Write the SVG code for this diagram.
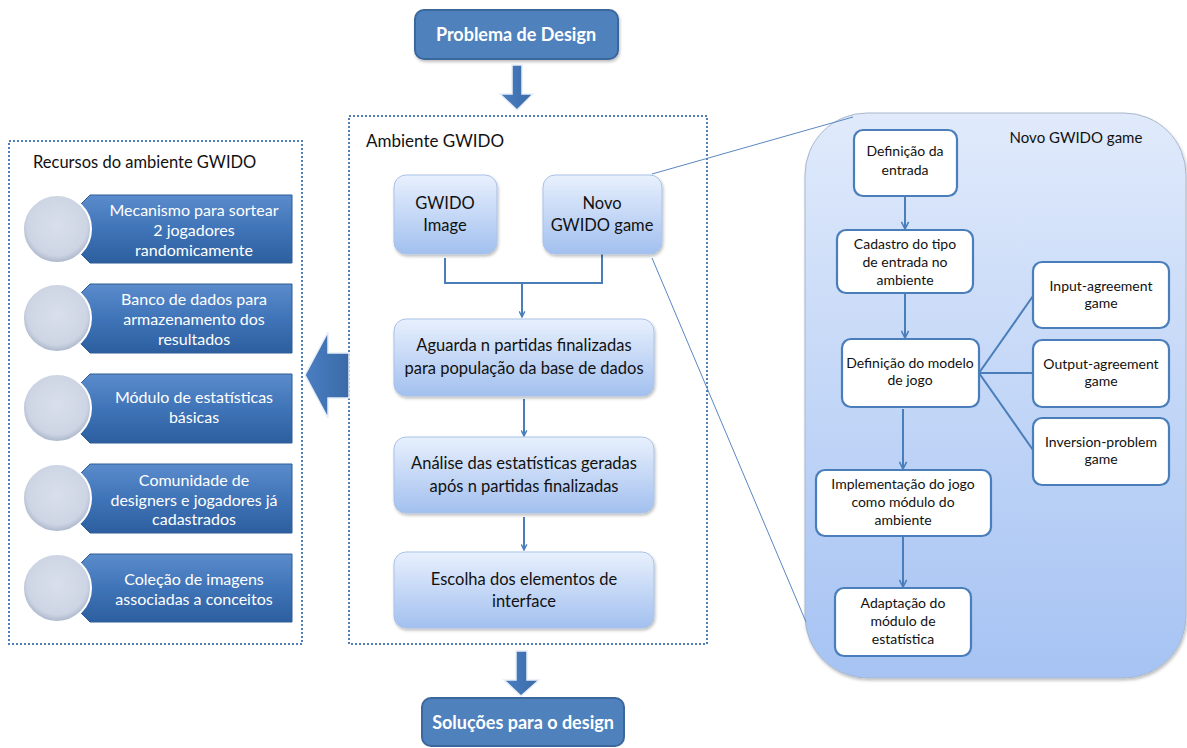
<svg xmlns="http://www.w3.org/2000/svg" width="1187" height="748" viewBox="0 0 1187 748">
  <defs>
    <linearGradient id="gNode" x1="0" y1="0" x2="0" y2="1">
      <stop offset="0" stop-color="#e8f0fd"/>
      <stop offset="1" stop-color="#a2c0ef"/>
    </linearGradient>
    <linearGradient id="gPanel" x1="0" y1="0" x2="0" y2="1">
      <stop offset="0" stop-color="#e0eafb"/>
      <stop offset="1" stop-color="#a6c3f3"/>
    </linearGradient>
    <linearGradient id="gTab" x1="0" y1="0" x2="0" y2="1">
      <stop offset="0" stop-color="#5b8ccc"/>
      <stop offset="0.5" stop-color="#3f74b8"/>
      <stop offset="1" stop-color="#2d5f9f"/>
    </linearGradient>
    <radialGradient id="gDisc" cx="0.5" cy="0.45" r="0.55">
      <stop offset="0" stop-color="#d9dfeb"/>
      <stop offset="0.8" stop-color="#cdd5e4"/>
      <stop offset="1" stop-color="#a9b4c8"/>
    </radialGradient>
    <linearGradient id="gArrow" x1="0" y1="0" x2="1" y2="0">
      <stop offset="0" stop-color="#4a7fc2"/>
      <stop offset="1" stop-color="#3a6aa8"/>
    </linearGradient>
    <filter id="shadow" x="-10%" y="-10%" width="120%" height="130%">
      <feDropShadow dx="1" dy="2" stdDeviation="1.5" flood-color="#000" flood-opacity="0.25"/>
    </filter>
    <marker id="arr" viewBox="0 0 10 10" refX="9" refY="5" markerWidth="7" markerHeight="7" orient="auto" markerUnits="userSpaceOnUse">
      <path d="M1,1 L9,5 L1,9" fill="none" stroke="#4a7ebb" stroke-width="2"/>
    </marker>
    <marker id="arr2" viewBox="0 0 10 10" refX="9" refY="5" markerWidth="9" markerHeight="9" orient="auto" markerUnits="userSpaceOnUse">
      <path d="M1,1 L9,5 L1,9" fill="none" stroke="#4a7ebb" stroke-width="1.8"/>
    </marker>
    <style>
      .t { font-family: "Lato", "Liberation Sans", sans-serif; text-anchor: middle; }
      .title { font-size: 18px; font-weight: bold; fill: #ffffff; }
      .blk { font-size: 16.5px; fill: #111; }
      .wht { font-size: 16px; fill: #ffffff; }
      .sm { font-size: 14px; fill: #111; }
      .hdr { font-family: "Lato", "Liberation Sans", sans-serif; font-size: 16.5px; fill: #111; }
      .dotted { fill: #ffffff; stroke: #4f7fb8; stroke-width: 2; stroke-dasharray: 2 2; }
      .dark { fill: #4f81bd; stroke: #3b679c; stroke-width: 2; }
      .soft { fill: url(#gNode); stroke: #a9c2e6; stroke-width: 1; }
      .wbox { fill: #ffffff; stroke: #4a7ebb; stroke-width: 2.2; }
      .link { fill: none; stroke: #4a7ebb; stroke-width: 2; }
      .zoom { fill: none; stroke: #5b87c0; stroke-width: 1; }
      .tab { fill: url(#gTab); stroke: #2f5d96; stroke-width: 1; }
      .disc { fill: url(#gDisc); stroke: #ffffff; stroke-width: 2; }
      .bigarrow { fill: url(#gArrow); stroke: #e8eef7; stroke-width: 1.5; }
    </style>
  </defs>

  <!-- outer containers -->
  <rect id="recursos-frame" class="dotted" x="9" y="141" width="293" height="503"/>
  <rect id="ambiente-frame" class="dotted" x="349" y="116" width="358" height="528"/>
  <rect id="novo-panel" x="805" y="113" width="381" height="565" rx="62" fill="url(#gPanel)" stroke="#a8b8cc" stroke-width="1" filter="url(#shadow)"/>

  <!-- zoom lines linking the node to its detail panel -->
  <g id="zoom-lines">
    <line class="zoom" x1="652" y1="174" x2="853" y2="117"/>
    <line class="zoom" x1="652" y1="258" x2="806" y2="622"/>
  </g>

  <!-- headings -->
  <text class="hdr" x="33" y="168">Recursos do ambiente GWIDO</text>
  <text class="hdr" x="366" y="147" style="font-size:17px">Ambiente GWIDO</text>
  <text class="t" x="1076" y="143" style="font-size:15px;fill:#111">Novo GWIDO game</text>

  <!-- top and bottom terminals -->
  <g id="problema">
    <rect class="dark" x="415" y="10" width="203" height="49" rx="9" filter="url(#shadow)"/>
    <text class="t title" x="516" y="41">Problema de Design</text>
  </g>
  <g id="solucoes">
    <rect class="dark" x="422" y="698" width="202" height="48" rx="9"/>
    <text class="t title" x="523" y="729">Soluções para o design</text>
  </g>

  <!-- block arrows -->
  <g id="block-arrows">
    <path class="bigarrow" d="M512,65 L522,65 L522,94 L533,94 L517,110 L500,94 L512,94 Z"/>
    <path class="bigarrow" d="M516,651 L527,651 L527,680 L539,680 L521,696 L504,680 L516,680 Z"/>
    <path class="bigarrow" d="M349,353 L328,353 L328,332 L305,375 L328,418 L328,398 L349,398 Z"/>
  </g>

  <!-- resources list -->
  <g id="rec1">
    <path class="tab" d="M90,195 L292,195 L292,263 L90,263 L80,253 L80,205 Z"/>
    <circle class="disc" cx="57" cy="229" r="34"/>
    <text class="t wht" x="194" y="216">Mecanismo para sortear</text>
    <text class="t wht" x="194" y="236">2 jogadores</text>
    <text class="t wht" x="194" y="256">randomicamente</text>
  </g>
  <g id="rec2">
    <path class="tab" d="M90,284 L292,284 L292,353 L90,353 L80,343 L80,294 Z"/>
    <circle class="disc" cx="57" cy="318" r="34"/>
    <text class="t wht" x="194" y="305">Banco de dados para</text>
    <text class="t wht" x="194" y="325">armazenamento dos</text>
    <text class="t wht" x="194" y="345">resultados</text>
  </g>
  <g id="rec3">
    <path class="tab" d="M90,374 L292,374 L292,443 L90,443 L80,433 L80,384 Z"/>
    <circle class="disc" cx="57" cy="408" r="34"/>
    <text class="t wht" x="194" y="403">Módulo de estatísticas</text>
    <text class="t wht" x="194" y="423">básicas</text>
  </g>
  <g id="rec4">
    <path class="tab" d="M90,464 L292,464 L292,533 L90,533 L80,523 L80,474 Z"/>
    <circle class="disc" cx="57" cy="498" r="34"/>
    <text class="t wht" x="194" y="486">Comunidade de</text>
    <text class="t wht" x="194" y="506">designers e jogadores já</text>
    <text class="t wht" x="194" y="525">cadastrados</text>
  </g>
  <g id="rec5">
    <path class="tab" d="M90,554 L292,554 L292,622 L90,622 L80,612 L80,564 Z"/>
    <circle class="disc" cx="57" cy="588" r="34"/>
    <text class="t wht" x="194" y="585">Coleção de imagens</text>
    <text class="t wht" x="194" y="605">associadas a conceitos</text>
  </g>

  <!-- connectors -->
  <g id="connectors">
    <path class="link" d="M445,258 L445,283 L602,283 L602,253"/>
    <line class="link" x1="522" y1="283" x2="522" y2="317" marker-end="url(#arr)"/>
    <line class="link" x1="524" y1="399" x2="524" y2="436" marker-end="url(#arr)"/>
    <line class="link" x1="524" y1="517" x2="524" y2="550" marker-end="url(#arr)"/>
    <line class="link" x1="905" y1="196" x2="905" y2="229" marker-end="url(#arr2)"/>
    <line class="link" x1="905" y1="293" x2="905" y2="338" marker-end="url(#arr2)"/>
    <line class="link" x1="903" y1="409" x2="903" y2="469" marker-end="url(#arr2)"/>
    <line class="link" x1="903" y1="536" x2="903" y2="587" marker-end="url(#arr2)"/>
    <path class="link" d="M1033,296 L979,373 L1033,450 M979,373 L1033,373"/>
  </g>

  <!-- environment nodes -->
  <g id="gwido-image">
    <rect class="soft" x="394" y="175" width="103" height="79" rx="12" filter="url(#shadow)"/>
    <text class="t blk" x="445" y="209">GWIDO</text>
    <text class="t blk" x="445" y="231">Image</text>
  </g>
  <g id="novo-gwido-game">
    <rect class="soft" x="543" y="175" width="119" height="79" rx="12" filter="url(#shadow)"/>
    <text class="t blk" x="602" y="209">Novo</text>
    <text class="t blk" x="602" y="231">GWIDO game</text>
  </g>
  <g id="aguarda">
    <rect class="soft" x="394" y="319" width="260" height="77" rx="12" filter="url(#shadow)"/>
    <text class="t blk" x="524" y="351">Aguarda n partidas finalizadas</text>
    <text class="t blk" x="524" y="374">para população da base de dados</text>
  </g>
  <g id="analise">
    <rect class="soft" x="394" y="437" width="260" height="76" rx="12" filter="url(#shadow)"/>
    <text class="t blk" x="524" y="469">Análise das estatísticas geradas</text>
    <text class="t blk" x="524" y="492">após n partidas finalizadas</text>
  </g>
  <g id="escolha">
    <rect class="soft" x="394" y="552" width="260" height="76" rx="12" filter="url(#shadow)"/>
    <text class="t blk" x="524" y="585">Escolha dos elementos de</text>
    <text class="t blk" x="524" y="607">interface</text>
  </g>

  <!-- detail panel nodes -->
  <g id="definicao-entrada">
    <rect class="wbox" x="854" y="130" width="103" height="66" rx="9"/>
    <text class="t sm" x="905" y="156">Definição da</text>
    <text class="t sm" x="905" y="175">entrada</text>
  </g>
  <g id="cadastro">
    <rect class="wbox" x="837" y="230" width="136" height="63" rx="9"/>
    <text class="t sm" x="905" y="249">Cadastro do tipo</text>
    <text class="t sm" x="905" y="267">de entrada no</text>
    <text class="t sm" x="905" y="285">ambiente</text>
  </g>
  <g id="definicao-modelo">
    <rect class="wbox" x="842" y="339" width="137" height="68" rx="9"/>
    <text class="t sm" x="910" y="368">Definição do modelo</text>
    <text class="t sm" x="910" y="385">de jogo</text>
  </g>
  <g id="input-agreement">
    <rect class="wbox" x="1033" y="262" width="136" height="66" rx="9"/>
    <text class="t sm" x="1101" y="291">Input-agreement</text>
    <text class="t sm" x="1101" y="308">game</text>
  </g>
  <g id="output-agreement">
    <rect class="wbox" x="1033" y="340" width="136" height="67" rx="9"/>
    <text class="t sm" x="1101" y="369">Output-agreement</text>
    <text class="t sm" x="1101" y="386">game</text>
  </g>
  <g id="inversion-problem">
    <rect class="wbox" x="1033" y="418" width="136" height="67" rx="9"/>
    <text class="t sm" x="1101" y="447">Inversion-problem</text>
    <text class="t sm" x="1101" y="464">game</text>
  </g>
  <g id="implementacao">
    <rect class="wbox" x="816" y="470" width="175" height="66" rx="9"/>
    <text class="t sm" x="903" y="489">Implementação do jogo</text>
    <text class="t sm" x="903" y="507">como módulo do</text>
    <text class="t sm" x="903" y="525">ambiente</text>
  </g>
  <g id="adaptacao">
    <rect class="wbox" x="835" y="588" width="136" height="68" rx="9"/>
    <text class="t sm" x="903" y="608">Adaptação do</text>
    <text class="t sm" x="903" y="626">módulo de</text>
    <text class="t sm" x="903" y="644">estatística</text>
  </g>
</svg>
